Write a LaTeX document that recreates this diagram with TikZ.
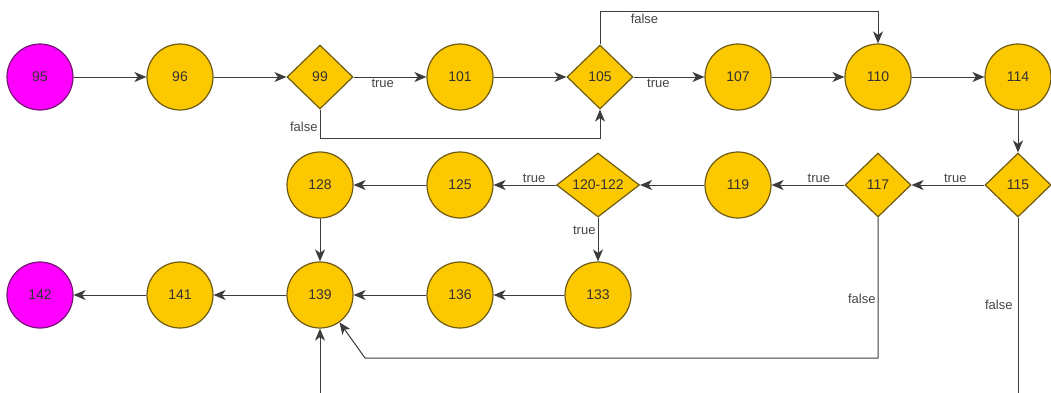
\documentclass[tikz,border=0pt]{standalone}
\usepackage{fontspec}
\setmainfont{Liberation Sans}
\usetikzlibrary{arrows.meta,shapes.geometric}
\definecolor{nodeyellow}{RGB}{252,200,0}
\definecolor{nodeedge}{RGB}{110,90,20}
\definecolor{nodepink}{RGB}{255,0,255}
\definecolor{pinkedge}{RGB}{120,20,120}
\definecolor{linegray}{RGB}{60,60,60}
\definecolor{labeltext}{RGB}{70,70,70}

\begin{document}
\begin{tikzpicture}[x=1pt,y=-1pt,
  blk/.style={circle,draw=nodeedge,fill=nodeyellow,line width=1.2pt,minimum size=66pt,inner sep=0pt,font=\fontsize{14}{16}\selectfont,text=black!80},
  ends/.style={blk,draw=pinkedge,fill=nodepink},
  cond/.style={diamond,draw=nodeedge,fill=nodeyellow,line width=1.2pt,minimum width=66pt,minimum height=64pt,inner sep=0pt,font=\fontsize{14}{16}\selectfont,text=black!80},
  flow/.style={draw=linegray,line width=1pt,-{Stealth[length=12pt,width=10pt,inset=3.5pt]}},
  lbl/.style={font=\fontsize{13}{15}\selectfont,text=labeltext,inner sep=2pt}]
\useasboundingbox (0,0) rectangle (1051,392);
\clip (0,0) rectangle (1051,392);
\fill[white] (0,0) rectangle (1051,392);

% first row
\node [ends] (n95) at (40,77) {95};
\node [blk] (n96) at (180,77) {96};
\node [cond] (n99) at (320,77) {99};
\node [blk] (n101) at (460,77) {101};
\node [cond] (n105) at (600,77) {105};
\node [blk] (n107) at (738,77) {107};
\node [blk] (n110) at (878,77) {110};
\node [blk] (n114) at (1018,77) {114};
% second row
\node [cond] (n115) at (1018,185) {115};
\node [cond] (n117) at (878,185) {117};
\node [blk] (n119) at (738,185) {119};
\node [cond,minimum width=83pt] (n120) at (598,185) {120-122};
\node [blk] (n125) at (460,185) {125};
\node [blk] (n128) at (320,185) {128};
% third row
\node [blk] (n133) at (598,295) {133};
\node [blk] (n136) at (460,295) {136};
\node [blk] (n139) at (320,295) {139};
\node [blk] (n141) at (180,295) {141};
\node [ends] (n142) at (40,295) {142};

\coordinate (k117) at (365,358);
\coordinate (k115) at (1018,420);

\draw [flow] (n95) -- (n96);
\draw [flow] (n96) -- (n99);
\draw [flow] (n99) -- node [lbl,below,pos=0.4] {true} (n101);
\draw [flow] (n101) -- (n105);
\draw [flow] (n105) -- node [lbl,below,pos=0.35] {true} (n107);
\draw [flow] (n107) -- (n110);
\draw [flow] (n110) -- (n114);
\draw [flow] (n114) -- (n115);
\draw [flow] (n115) -- node [lbl,above,pos=0.4] {true} (n117);
\draw [flow] (n117) -- node [lbl,above,pos=0.35] {true} (n119);
\draw [flow] (n119) -- (n120);
\draw [flow] (n120) -- node [lbl,above,pos=0.35] {true} (n125);
\draw [flow] (n125) -- (n128);
\draw [flow] (n120) -- node [lbl,left,pos=0.3] {true} (n133);
\draw [flow] (n128) -- (n139);
\draw [flow] (n133) -- (n136);
\draw [flow] (n136) -- (n139);
\draw [flow] (n139) -- (n141);
\draw [flow] (n141) -- (n142);
% false branches
\draw [flow] (n99.south) -- node [lbl,left,pos=0.6] {false} ++(0,29) -| (n105.south);
\draw [flow] (n105.north) -- ++(0,-33) -| node [lbl,below,pos=0.08] {false} (n110.north);
\draw [flow] (n117.south) |- node [lbl,left,pos=0.29] {false} (k117) -- (n139);
\draw [flow] (n115.south) -- node [lbl,left,pos=0.43,inner sep=5pt] {false} (k115) -| (n139.south);
\end{tikzpicture}
\end{document}
